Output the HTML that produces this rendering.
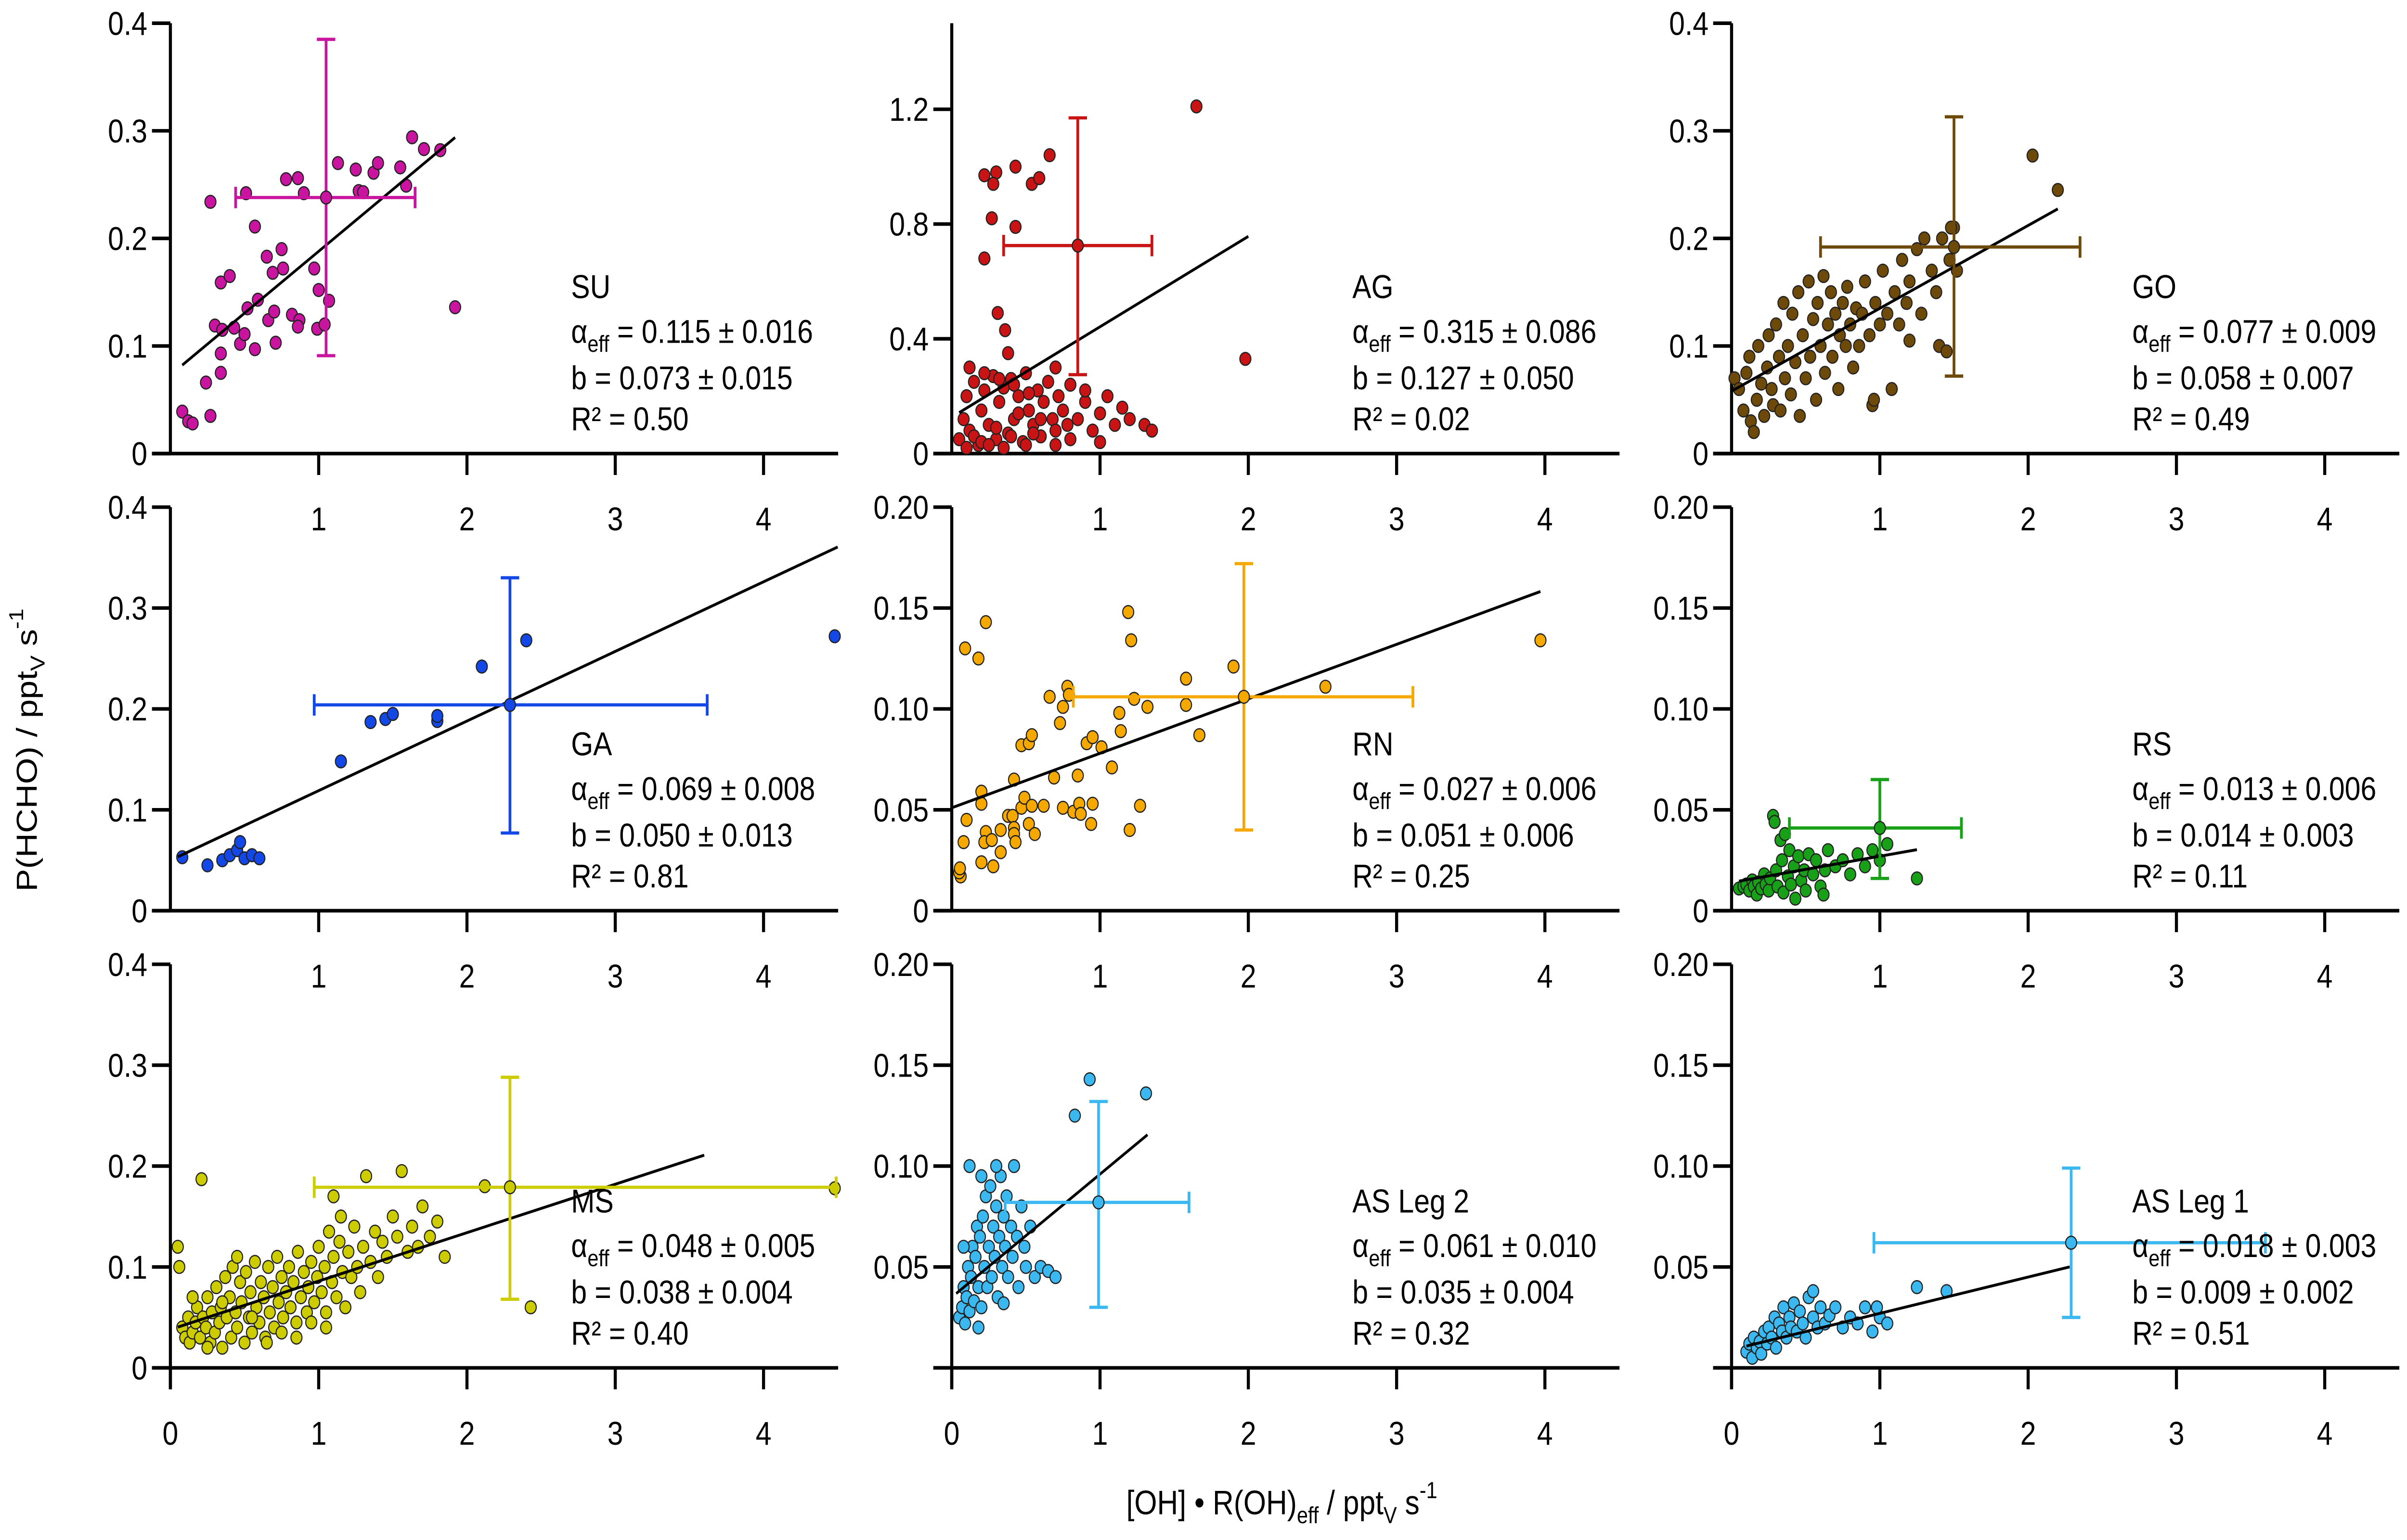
<!DOCTYPE html>
<html><head><meta charset="utf-8"><style>
html,body{margin:0;padding:0;background:#fff;overflow:hidden;width:100%;height:100%;}
svg{display:block;width:100vw;height:100vh;font-family:"Liberation Sans",Arial,sans-serif;}
</style></head><body>
<svg id="chart" width="5818" height="3200" viewBox="0 0 1568 862.4" preserveAspectRatio="none" xmlns="http://www.w3.org/2000/svg"></svg>
<script>
// ---------- DATA ----------
const panelNames = ["SU","AG","GO","GA","RN","RS","MS","AS Leg 2","AS Leg 1"];
const alphaText = ["0.115 ± 0.016","0.315 ± 0.086","0.077 ± 0.009","0.069 ± 0.008","0.027 ± 0.006","0.013 ± 0.006","0.048 ± 0.005","0.061 ± 0.010","0.018 ± 0.003"];
const bText = ["0.073 ± 0.015","0.127 ± 0.050","0.058 ± 0.007","0.050 ± 0.013","0.051 ± 0.006","0.014 ± 0.003","0.038 ± 0.004","0.035 ± 0.004","0.009 ± 0.002"];
const r2Text = ["0.50","0.02","0.49","0.81","0.25","0.11","0.40","0.32","0.51"];
const fitAlpha = [0.115,0.315,0.077,0.069,0.027,0.013,0.048,0.061,0.018];
const fitB = [0.073,0.127,0.058,0.050,0.051,0.014,0.038,0.035,0.009];
const fitX1 = [0.08,0.05,0.0,0.05,0.0,0.05,0.05,0.03,0.1];
const fitX2 = [1.92,2.0,2.2,4.5,3.97,1.25,3.6,1.32,2.28];
const meanX = [1.05,0.85,1.5,2.29,1.97,1.0,2.29,0.99,2.29];
const meanY = [0.238,0.725,0.192,0.204,0.106,0.041,0.179,0.082,0.062];
const errXlo = [0.44,0.35,0.6,0.97,0.82,0.39,0.97,0.36,0.96];
const errXhi = [1.65,1.35,2.35,3.62,3.11,1.55,4.49,1.6,3.6];
const errYlo = [0.091,0.275,0.072,0.077,0.040,0.016,0.068,0.030,0.025];
const errYhi = [0.385,1.17,0.313,0.33,0.172,0.065,0.288,0.132,0.099];
const yMax = [0.4,1.5,0.4,0.4,0.2,0.2,0.4,0.2,0.2];
const yTickVals1 = [0,0.1,0.2,0.3,0.4];
const yTickLabels1 = ["0","0.1","0.2","0.3","0.4"];
const yTickValsAG = [0,0.4,0.8,1.2];
const yTickLabelsAG = ["0","0.4","0.8","1.2"];
const yTickVals2 = [0,0.05,0.1,0.15,0.2];
const yTickLabels2 = ["0","0.05","0.10","0.15","0.20"];
const xTickVals = [0,1,2,3,4];
const xTickLabels = ["0","1","2","3","4"];

const suX=[0.08,0.12,0.15,0.27,0.24,0.34,0.34,0.30,0.35,0.43,0.34,0.40,0.27,0.47,0.50,0.57,0.52,0.59,0.57,0.51,0.66,0.70,0.71,0.69,0.65,0.75,0.76,0.78,0.86,0.90,0.82,0.87,0.86,0.97,1.00,0.99,1.04,1.07,1.13,1.25,1.27,1.30,1.37,1.40,1.55,1.59,1.63,1.71,1.82,1.92];
const suY=[0.039,0.030,0.028,0.035,0.066,0.075,0.093,0.119,0.115,0.117,0.159,0.165,0.234,0.102,0.111,0.097,0.135,0.143,0.211,0.242,0.124,0.132,0.103,0.168,0.183,0.190,0.172,0.255,0.256,0.242,0.129,0.124,0.118,0.172,0.152,0.116,0.120,0.142,0.270,0.264,0.244,0.243,0.261,0.270,0.266,0.249,0.294,0.283,0.282,0.136];

const agX=[0.05,0.08,0.1,0.12,0.15,0.18,0.2,0.22,0.25,0.28,0.3,0.32,0.35,0.38,0.4,0.42,0.45,0.48,0.5,0.52,0.55,0.58,0.6,0.62,0.65,0.68,0.7,0.72,0.75,0.78,0.8,0.85,0.9,0.95,1.0,1.05,1.1,1.15,1.2,1.3,1.35,0.1,0.15,0.2,0.25,0.3,0.35,0.4,0.45,0.5,0.55,0.6,0.7,0.8,0.9,1.0,0.12,0.22,0.32,0.42,0.52,0.22,0.3,0.28,0.27,0.22,0.43,0.54,0.59,0.66,0.43,0.31,0.36,1.65,1.98,0.7,0.38];
const agY=[0.05,0.12,0.2,0.08,0.25,0.03,0.15,0.22,0.1,0.27,0.05,0.18,0.23,0.07,0.26,0.12,0.2,0.04,0.28,0.15,0.1,0.22,0.06,0.18,0.25,0.12,0.08,0.2,0.15,0.1,0.24,0.12,0.18,0.08,0.14,0.2,0.1,0.16,0.12,0.1,0.08,0.02,0.06,0.04,0.03,0.09,0.02,0.06,0.14,0.03,0.07,0.12,0.03,0.05,0.22,0.04,0.3,0.28,0.26,0.24,0.21,0.97,0.98,0.94,0.82,0.68,1.0,0.94,0.96,1.04,0.79,0.49,0.43,1.21,0.33,0.3,0.35];

const goX=[0.02,0.05,0.08,0.1,0.12,0.13,0.15,0.17,0.18,0.2,0.22,0.24,0.25,0.27,0.28,0.3,0.32,0.33,0.35,0.36,0.38,0.4,0.41,0.43,0.45,0.46,0.48,0.5,0.52,0.53,0.55,0.57,0.58,0.6,0.62,0.63,0.65,0.67,0.68,0.7,0.72,0.73,0.75,0.77,0.78,0.8,0.82,0.84,0.86,0.88,0.9,0.93,0.95,0.97,1.0,1.02,1.05,1.08,1.1,1.13,1.15,1.18,1.2,1.25,1.28,1.3,1.35,1.38,1.4,1.42,1.45,1.47,1.5,1.52,1.48,2.03,2.2,0.96,1.2];
const goY=[0.07,0.06,0.04,0.075,0.09,0.03,0.02,0.05,0.1,0.065,0.035,0.08,0.11,0.06,0.045,0.12,0.09,0.04,0.14,0.07,0.1,0.055,0.13,0.085,0.15,0.035,0.11,0.07,0.16,0.09,0.125,0.05,0.14,0.1,0.165,0.075,0.12,0.15,0.09,0.13,0.06,0.11,0.14,0.1,0.155,0.12,0.08,0.135,0.1,0.13,0.16,0.11,0.045,0.14,0.12,0.17,0.13,0.06,0.15,0.12,0.18,0.14,0.16,0.19,0.13,0.2,0.17,0.15,0.1,0.2,0.095,0.18,0.21,0.17,0.21,0.277,0.245,0.05,0.105];

const gaX=[0.08,0.25,0.35,0.4,0.45,0.5,0.47,0.55,0.6,1.15,1.35,1.45,1.5,1.8,1.8,2.1,2.4,4.48];
const gaY=[0.053,0.045,0.05,0.055,0.06,0.052,0.068,0.055,0.052,0.148,0.187,0.19,0.195,0.188,0.193,0.242,0.268,0.272];

const rnX=[0.06,0.05,0.055,0.09,0.18,0.23,0.10,0.08,0.20,0.20,0.20,0.28,0.23,0.22,0.27,0.33,0.33,0.38,0.41,0.42,0.42,0.43,0.42,0.47,0.52,0.54,0.47,0.49,0.54,0.52,0.56,0.62,0.66,0.69,0.73,0.75,0.78,0.79,0.75,0.82,0.85,0.86,0.87,0.91,0.95,0.95,0.94,1.01,1.08,1.13,1.14,1.19,1.21,1.20,1.23,1.27,1.32,1.58,1.58,1.67,1.90,2.52,3.97];
const rnY=[0.017,0.019,0.021,0.130,0.125,0.143,0.045,0.034,0.059,0.053,0.024,0.022,0.039,0.034,0.035,0.029,0.040,0.047,0.047,0.041,0.038,0.034,0.065,0.082,0.083,0.087,0.051,0.056,0.052,0.043,0.038,0.052,0.106,0.066,0.093,0.101,0.111,0.107,0.051,0.049,0.067,0.053,0.048,0.083,0.086,0.053,0.043,0.081,0.071,0.098,0.089,0.148,0.134,0.040,0.105,0.052,0.101,0.115,0.102,0.087,0.121,0.111,0.134];

const rsX=[0.05,0.08,0.1,0.12,0.14,0.15,0.17,0.18,0.2,0.22,0.23,0.25,0.26,0.28,0.29,0.3,0.31,0.33,0.34,0.35,0.36,0.38,0.39,0.4,0.42,0.43,0.45,0.47,0.49,0.5,0.52,0.55,0.57,0.6,0.63,0.65,0.7,0.75,0.8,0.85,0.9,0.95,1.0,1.05,1.25,0.62];
const rsY=[0.011,0.012,0.013,0.01,0.015,0.012,0.008,0.014,0.011,0.018,0.013,0.01,0.016,0.047,0.044,0.02,0.012,0.035,0.025,0.009,0.038,0.017,0.03,0.013,0.022,0.006,0.027,0.015,0.02,0.01,0.028,0.018,0.025,0.012,0.02,0.03,0.022,0.025,0.018,0.028,0.022,0.03,0.025,0.033,0.016,0.008];

const msX=[0.05,0.06,0.08,0.1,0.12,0.13,0.15,0.17,0.18,0.2,0.21,0.22,0.24,0.25,0.27,0.28,0.3,0.31,0.33,0.34,0.35,0.37,0.38,0.4,0.41,0.42,0.44,0.45,0.47,0.48,0.5,0.51,0.53,0.54,0.55,0.57,0.58,0.6,0.61,0.63,0.64,0.66,0.67,0.69,0.7,0.72,0.73,0.75,0.76,0.78,0.8,0.81,0.83,0.85,0.86,0.88,0.9,0.92,0.93,0.95,0.97,0.99,1.0,1.02,1.04,1.05,1.07,1.09,1.1,1.12,1.14,1.16,1.18,1.2,1.22,1.24,1.26,1.28,1.3,1.32,1.35,1.38,1.4,1.43,1.46,1.5,1.53,1.56,1.6,1.63,1.67,1.7,1.75,1.8,1.85,2.12,2.43,4.48,0.15,0.25,0.35,0.45,0.55,0.65,0.75,0.85,0.95,1.05,1.1,1.15];
const msY=[0.12,0.1,0.04,0.03,0.05,0.025,0.035,0.045,0.06,0.03,0.187,0.05,0.04,0.07,0.025,0.055,0.035,0.08,0.045,0.06,0.02,0.09,0.05,0.07,0.03,0.1,0.055,0.04,0.085,0.065,0.025,0.095,0.05,0.075,0.035,0.105,0.06,0.045,0.085,0.07,0.03,0.1,0.055,0.08,0.04,0.11,0.065,0.09,0.05,0.075,0.1,0.06,0.085,0.045,0.115,0.07,0.095,0.055,0.08,0.105,0.065,0.09,0.12,0.075,0.1,0.055,0.135,0.085,0.11,0.07,0.125,0.095,0.06,0.115,0.09,0.14,0.1,0.075,0.12,0.19,0.105,0.135,0.09,0.125,0.11,0.15,0.13,0.195,0.115,0.14,0.12,0.16,0.13,0.145,0.11,0.18,0.06,0.178,0.07,0.02,0.065,0.11,0.05,0.025,0.035,0.03,0.045,0.04,0.17,0.15];

const as2X=[0.05,0.07,0.08,0.09,0.1,0.11,0.12,0.13,0.14,0.15,0.16,0.17,0.18,0.19,0.2,0.21,0.22,0.23,0.24,0.25,0.26,0.27,0.28,0.29,0.3,0.31,0.32,0.33,0.34,0.35,0.36,0.37,0.38,0.4,0.41,0.42,0.44,0.45,0.47,0.49,0.5,0.53,0.56,0.6,0.65,0.7,0.12,0.2,0.3,0.08,0.93,1.31,0.83,0.35,0.18];
const as2Y=[0.025,0.03,0.04,0.022,0.035,0.05,0.028,0.045,0.06,0.033,0.055,0.07,0.04,0.065,0.03,0.075,0.05,0.085,0.04,0.06,0.09,0.045,0.07,0.055,0.08,0.035,0.065,0.095,0.05,0.075,0.06,0.085,0.045,0.07,0.055,0.1,0.065,0.04,0.08,0.06,0.05,0.07,0.045,0.05,0.048,0.045,0.1,0.095,0.1,0.06,0.143,0.136,0.125,0.032,0.02];

const as1X=[0.1,0.12,0.14,0.15,0.17,0.19,0.2,0.22,0.24,0.25,0.27,0.29,0.3,0.32,0.34,0.35,0.37,0.39,0.4,0.42,0.44,0.46,0.48,0.5,0.52,0.55,0.58,0.6,0.63,0.66,0.7,0.75,0.8,0.85,0.9,0.95,1.0,1.05,0.98,1.25,1.45,0.55];
const as1Y=[0.008,0.012,0.005,0.015,0.01,0.013,0.007,0.018,0.012,0.02,0.015,0.025,0.01,0.022,0.018,0.03,0.015,0.025,0.02,0.032,0.018,0.028,0.022,0.015,0.035,0.025,0.02,0.03,0.022,0.026,0.03,0.02,0.025,0.022,0.03,0.018,0.025,0.022,0.03,0.04,0.038,0.038];

const seriesX=[suX,agX,goX,gaX,rnX,rsX,msX,as2X,as1X];
const seriesY=[suY,agY,goY,gaY,rnY,rsY,msY,as2Y,as1Y];

// ---------- LAYOUT ----------
const colors=["#c8149e","#c81414","#6e4a0a","#1448e6","#f5a800","#18a018","#cccc00","#3cb8f0","#3cb8f0"];
const colX0=[111,620,1128];
const rowY0=[254,510,766];
const rowH=[241,226,226];
const unitPx=96.6;
const axisLen=435;
const NS="http://www.w3.org/2000/svg";
const svg=document.getElementById('chart');
function mk(tag,attrs,parent){const e=document.createElementNS(NS,tag);for(const k in attrs)e.setAttribute(k,attrs[k]);(parent||svg).appendChild(e);return e;}

for(let p=0;p<9;p++){
  const r=Math.floor(p/3),c=p%3;
  const x0=colX0[c],y0=rowY0[r];
  const ymaxPx = (p===1)?241:rowH[r];
  const yScaleMax = yMax[p];
  const sx=v=>x0+v*unitPx;
  const sy=v=>y0-v/yScaleMax*ymaxPx;
  const g=mk('g',{});
  
  
  const topY = y0-ymaxPx;
  const ya=mk('line',{x1:x0,y1:topY,x2:x0,y2:(r===2?y0+12:y0),stroke:'#000','stroke-width':2},g);
  
  
  const xa=mk('line',{x1:x0-12,y1:y0,x2:x0+axisLen,y2:y0,stroke:'#000','stroke-width':2},g);
  
  
  let tv,tl;
  if(p===1){tv=yTickValsAG;tl=yTickLabelsAG;}
  else if(yMax[p]===0.4){tv=yTickVals1;tl=yTickLabels1;}
  else {tv=yTickVals2;tl=yTickLabels2;}
  tv.forEach((v,i)=>{
    const yy=sy(v);
    mk('line',{x1:x0-12,y1:yy,x2:x0,y2:yy,stroke:'#000','stroke-width':2},g);
    if(r===2 && c>0 && v===0) return;
    const t=mk('text',{x:x0-15,y:yy+6.5,'text-anchor':'end','font-size':18.5,fill:'#000'},g);
    t.textContent=tl[i];
    
    
  });
  xTickVals.forEach((v,i)=>{
    if(v===0 && r<2) return;
    const xx=sx(v);
    mk('line',{x1:xx,y1:y0,x2:xx,y2:y0+12,stroke:'#000','stroke-width':2},g);
    const t=mk('text',{x:xx,y:y0+43,'text-anchor':'middle','font-size':18.5,fill:'#000'},g);
    t.textContent=xTickLabels[i];
    
    
  });
  const xs=seriesX[p],ys=seriesY[p];
  for(let i=0;i<xs.length;i++){
    const pt=mk('circle',{cx:sx(xs[i]),cy:sy(ys[i]),r:3.6,fill:colors[p],stroke:'#222','stroke-width':0.7},g);
    
    
  }
  const fl=mk('line',{x1:sx(fitX1[p]),y1:sy(fitB[p]+fitAlpha[p]*fitX1[p]),x2:sx(fitX2[p]),y2:sy(fitB[p]+fitAlpha[p]*fitX2[p]),stroke:'#000','stroke-width':1.6},g);
  
  
  const eg=mk('g',{stroke:colors[p],'stroke-width':1.8},g);
  
  
  const mx=sx(meanX[p]),my=sy(meanY[p]);
  mk('line',{x1:sx(errXlo[p]),y1:my,x2:sx(errXhi[p]),y2:my},eg);
  mk('line',{x1:sx(errXlo[p]),y1:my-6,x2:sx(errXlo[p]),y2:my+6},eg);
  mk('line',{x1:sx(errXhi[p]),y1:my-6,x2:sx(errXhi[p]),y2:my+6},eg);
  mk('line',{x1:mx,y1:sy(errYlo[p]),x2:mx,y2:sy(errYhi[p])},eg);
  mk('line',{x1:mx-6,y1:sy(errYlo[p]),x2:mx+6,y2:sy(errYlo[p])},eg);
  mk('line',{x1:mx-6,y1:sy(errYhi[p]),x2:mx+6,y2:sy(errYhi[p])},eg);
  const mp=mk('circle',{cx:mx,cy:my,r:3.6,fill:colors[p],stroke:'#222','stroke-width':0.7},g);
  
  
  const tx=x0+261, ty=y0-87;
  const a=mk('g',{'font-size':18.5,fill:'#000'},g);
  
  
  const t1=mk('text',{x:tx,y:ty},a); t1.textContent=panelNames[p];
  const t2=mk('text',{x:tx,y:ty+25},a);
  t2.innerHTML='α<tspan font-size="13" dy="5">eff</tspan><tspan dy="-5"> = '+alphaText[p]+'</tspan>';
  const t3=mk('text',{x:tx,y:ty+51},a); t3.textContent='b = '+bText[p];
  const t4=mk('text',{x:tx,y:ty+74},a); t4.textContent='R² = '+r2Text[p];
}
const yt=mk('text',{x:0,y:0,'font-size':19,'text-anchor':'middle',transform:'translate(24,420) rotate(-90)'});
yt.innerHTML='P(HCHO) / ppt<tspan font-size="13" dy="5">V</tspan><tspan dy="-5"> s</tspan><tspan font-size="13" dy="-9">-1</tspan>';


const xt=mk('text',{x:835,y:848,'font-size':19,'text-anchor':'middle'});
xt.innerHTML='[OH] • R(OH)<tspan font-size="13" dy="5">eff</tspan><tspan dy="-5"> / ppt</tspan><tspan font-size="13" dy="5">V</tspan><tspan dy="-5"> s</tspan><tspan font-size="13" dy="-9">-1</tspan>';


</script>
</body></html>
